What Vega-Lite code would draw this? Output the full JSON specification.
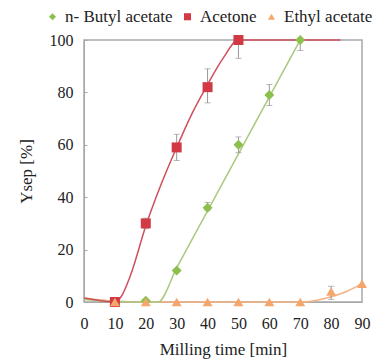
{
  "$schema": "https://vega.github.io/schema/vega-lite/v6.json",
  "autosize": "none",
  "width": 278,
  "height": 262,
  "padding": {"left": 84, "top": 40, "right": 13, "bottom": 61},
  "background": "white",
  "config": {
    "font": "Liberation Serif",
    "view": {"stroke": "#a8a8a8", "strokeWidth": 1.5},
    "axis": {"labelFont": "Liberation Serif", "titleFont": "Liberation Serif", "labelFontSize": 16, "titleFontSize": 17, "labelColor": "#222", "titleColor": "#222", "titleFontWeight": "normal", "grid": false, "domainColor": "#a8a8a8", "tickColor": "#a8a8a8", "labelOverlap": false}
  },
  "datasets": {
    "pts": [
      {"t": 10, "y": 0, "s": "n- Butyl acetate"},
      {"t": 20, "y": 0.5, "s": "n- Butyl acetate"},
      {"t": 30, "y": 12, "s": "n- Butyl acetate"},
      {"t": 40, "y": 36, "s": "n- Butyl acetate"},
      {"t": 50, "y": 60, "s": "n- Butyl acetate"},
      {"t": 60, "y": 79, "s": "n- Butyl acetate"},
      {"t": 70, "y": 100, "s": "n- Butyl acetate"},
      {"t": 10, "y": 0, "s": "Acetone"},
      {"t": 20, "y": 30, "s": "Acetone"},
      {"t": 30, "y": 59, "s": "Acetone"},
      {"t": 40, "y": 82, "s": "Acetone"},
      {"t": 50, "y": 100, "s": "Acetone"},
      {"t": 10, "y": 0, "s": "Ethyl acetate"},
      {"t": 20, "y": 0, "s": "Ethyl acetate"},
      {"t": 30, "y": 0, "s": "Ethyl acetate"},
      {"t": 40, "y": 0, "s": "Ethyl acetate"},
      {"t": 50, "y": 0, "s": "Ethyl acetate"},
      {"t": 60, "y": 0, "s": "Ethyl acetate"},
      {"t": 70, "y": 0, "s": "Ethyl acetate"},
      {"t": 80, "y": 4, "s": "Ethyl acetate"},
      {"t": 90, "y": 7, "s": "Ethyl acetate"}
    ],
    "err": [
      {"t": 20, "lo": 28, "hi": 32},
      {"t": 30, "lo": 54, "hi": 64},
      {"t": 40, "lo": 76, "hi": 89},
      {"t": 50, "lo": 93, "hi": 100},
      {"t": 40, "lo": 35, "hi": 38},
      {"t": 50, "lo": 57, "hi": 63},
      {"t": 60, "lo": 75, "hi": 83},
      {"t": 70, "lo": 96, "hi": 100},
      {"t": 80, "lo": 1, "hi": 6}
    ],
    "fit": [
      {"t": 0, "y": 1.5, "s": "Acetone"},
      {"t": 5, "y": 0.6, "s": "Acetone"},
      {"t": 10, "y": 0, "s": "Acetone"},
      {"t": 12, "y": 2, "s": "Acetone"},
      {"t": 15, "y": 10, "s": "Acetone"},
      {"t": 20, "y": 29, "s": "Acetone"},
      {"t": 25, "y": 45, "s": "Acetone"},
      {"t": 30, "y": 59, "s": "Acetone"},
      {"t": 35, "y": 72, "s": "Acetone"},
      {"t": 40, "y": 83, "s": "Acetone"},
      {"t": 45, "y": 93, "s": "Acetone"},
      {"t": 50, "y": 100, "s": "Acetone"},
      {"t": 83, "y": 100, "s": "Acetone"},
      {"t": 0, "y": 1, "s": "n- Butyl acetate"},
      {"t": 10, "y": 0.2, "s": "n- Butyl acetate"},
      {"t": 24, "y": 0, "s": "n- Butyl acetate"},
      {"t": 30, "y": 13, "s": "n- Butyl acetate"},
      {"t": 40, "y": 34.8, "s": "n- Butyl acetate"},
      {"t": 50, "y": 56.5, "s": "n- Butyl acetate"},
      {"t": 60, "y": 78.3, "s": "n- Butyl acetate"},
      {"t": 70, "y": 100, "s": "n- Butyl acetate"},
      {"t": 0, "y": 1.5, "s": "Ethyl acetate"},
      {"t": 10, "y": 0.3, "s": "Ethyl acetate"},
      {"t": 20, "y": 0, "s": "Ethyl acetate"},
      {"t": 70, "y": 0, "s": "Ethyl acetate"},
      {"t": 75, "y": 0.6, "s": "Ethyl acetate"},
      {"t": 80, "y": 2, "s": "Ethyl acetate"},
      {"t": 85, "y": 4, "s": "Ethyl acetate"},
      {"t": 90, "y": 7, "s": "Ethyl acetate"}
    ]
  },
  "encoding": {
    "x": {"field": "t", "type": "quantitative", "scale": {"domain": [0, 90]}, "axis": {"values": [0,10,20,30,40,50,60,70,80,90], "title": "Milling time [min]", "ticks": false, "labelPadding": 13, "titlePadding": 10, "labelOverlap": false, "labelFlush": false}},
    "y": {"field": "y", "type": "quantitative", "scale": {"domain": [0, 100]}, "axis": {"values": [0,20,40,60,80,100], "title": "Ysep [%]", "tickSize": -3, "labelPadding": 14, "titlePadding": 14, "labelOverlap": false, "labelFlush": false}}
  },
  "layer": [
    {
      "data": {"name": "fit"},
      "transform": [{"filter": "datum.s === 'Ethyl acetate'"}],
      "mark": {"type": "line", "interpolate": "monotone", "strokeWidth": 1.5, "clip": false, "color": "#f6b283"}
    },
    {
      "data": {"name": "fit"},
      "transform": [{"filter": "datum.s === 'n- Butyl acetate'"}],
      "mark": {"type": "line", "interpolate": "monotone", "strokeWidth": 1.5, "clip": false, "color": "#a9c97e"}
    },
    {
      "data": {"name": "fit"},
      "transform": [{"filter": "datum.s === 'Acetone'"}],
      "mark": {"type": "line", "interpolate": "monotone", "strokeWidth": 1.5, "clip": false, "color": "#cf4f5c"}
    },
    {
      "data": {"name": "err"},
      "mark": {"type": "errorbar", "ticks": {"size": 6, "color": "#999"}, "rule": {"color": "#999", "strokeWidth": 1}},
      "encoding": {
        "y": {"field": "lo", "type": "quantitative", "title": "Ysep [%]"},
        "y2": {"field": "hi"}
      }
    },
    {
      "data": {"name": "pts"},
      "mark": {"type": "point", "filled": true, "opacity": 1, "size": 100, "clip": false},
      "encoding": {
        "color": {"field": "s", "type": "nominal", "scale": {"domain": ["n- Butyl acetate", "Acetone", "Ethyl acetate"], "range": ["#8dbf4f", "#d13a44", "#f5a66c"]}, "legend": {"orient": "none", "legendX": -40, "legendY": -32, "direction": "horizontal", "title": null, "labelFont": "Liberation Serif", "labelFontSize": 17, "labelColor": "#222", "symbolSize": 50, "columnPadding": 6, "labelOffset": 4}},
        "shape": {"field": "s", "type": "nominal", "scale": {"domain": ["n- Butyl acetate", "Acetone", "Ethyl acetate"], "range": ["diamond", "square", "triangle-up"]}}
      }
    }
  ]
}
